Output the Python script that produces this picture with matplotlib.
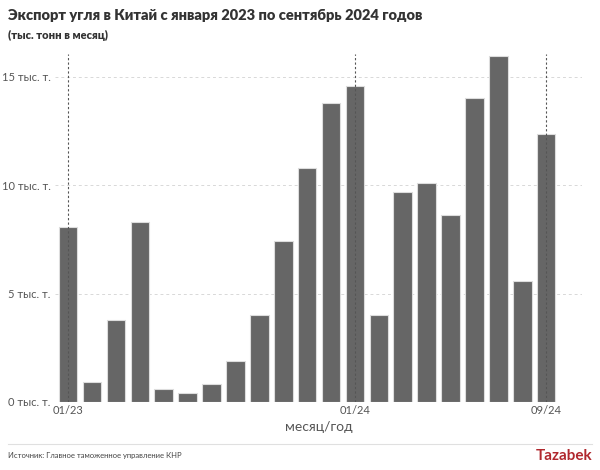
import matplotlib
matplotlib.use("Agg")
import matplotlib.pyplot as plt

plt.rcParams['font.family'] = ['Lato', 'DejaVu Sans']

months = ['01/23', '02/23', '03/23', '04/23', '05/23', '06/23', '07/23',
          '08/23', '09/23', '10/23', '11/23', '12/23', '01/24', '02/24',
          '03/24', '04/24', '05/24', '06/24', '07/24', '08/24', '09/24']
values = [8.08, 0.92, 3.78, 8.3, 0.6, 0.42, 0.83, 1.89, 4.0, 7.43, 10.8,
          13.8, 14.58, 4.0, 9.7, 10.1, 8.63, 14.0, 15.97, 5.58, 12.37]
yticks = [0, 5, 10, 15]
ytick_labels = ['0 тыс. т.', '5 тыс. т.', '10 тыс. т.', '15 тыс. т.']
marked = ['01/23', '01/24', '09/24']

fig = plt.figure(figsize=(6, 4.7), dpi=100)
ax = fig.add_axes([0.0917, 0.1447, 0.8783, 0.7403])

x = list(range(len(months)))
ax.bar(x, values, width=0.78, color='#666666', edgecolor='#dddddd',
       linewidth=0.8, zorder=2)

ax.set_xlim(-0.55, 21.5)
ax.set_ylim(0, 16.05)

ax.set_yticks(yticks)
ax.set_yticklabels(ytick_labels)
for yv in yticks:
    ax.axhline(yv, color='#d8d8d8', lw=0.7, ls=(0, (3, 3)), zorder=1)

mpos = [months.index(m) for m in marked]
ax.set_xticks(mpos)
ax.set_xticklabels(marked)
for p in mpos:
    ax.axvline(p, color='#555555', lw=0.8, ls=(0, (2, 2)), zorder=3)

ax.tick_params(axis='both', length=0, labelsize=8, labelcolor='#555555')
ax.tick_params(axis='x', pad=2)
ax.tick_params(axis='y', pad=3)
for s in ax.spines.values():
    s.set_visible(False)

ax.set_xlabel('месяц/год', fontsize=10, color='#555555', labelpad=4)

fig.text(0.013, 0.968, 'Экспорт угля в Китай с января 2023 по сентябрь 2024 годов',
         fontsize=10.5, fontweight='heavy', color='#333333', va='center')
fig.text(0.013, 0.925, '(тыс. тонн в месяц)', fontsize=8,
         fontweight='heavy', color='#333333', va='center')

fig.add_artist(plt.Line2D([0.013, 0.987], [0.055, 0.055],
                          color='#e0e0e0', lw=0.8, transform=fig.transFigure))
fig.text(0.013, 0.03, 'Источник: Главное таможенное управление КНР',
         fontsize=5.5, color='#444444', va='center')
fig.text(0.987, 0.03, 'Tazabek', fontsize=11, fontweight='bold',
         color='#b0282e', ha='right', va='center')

fig.savefig('out.png', dpi=100)
